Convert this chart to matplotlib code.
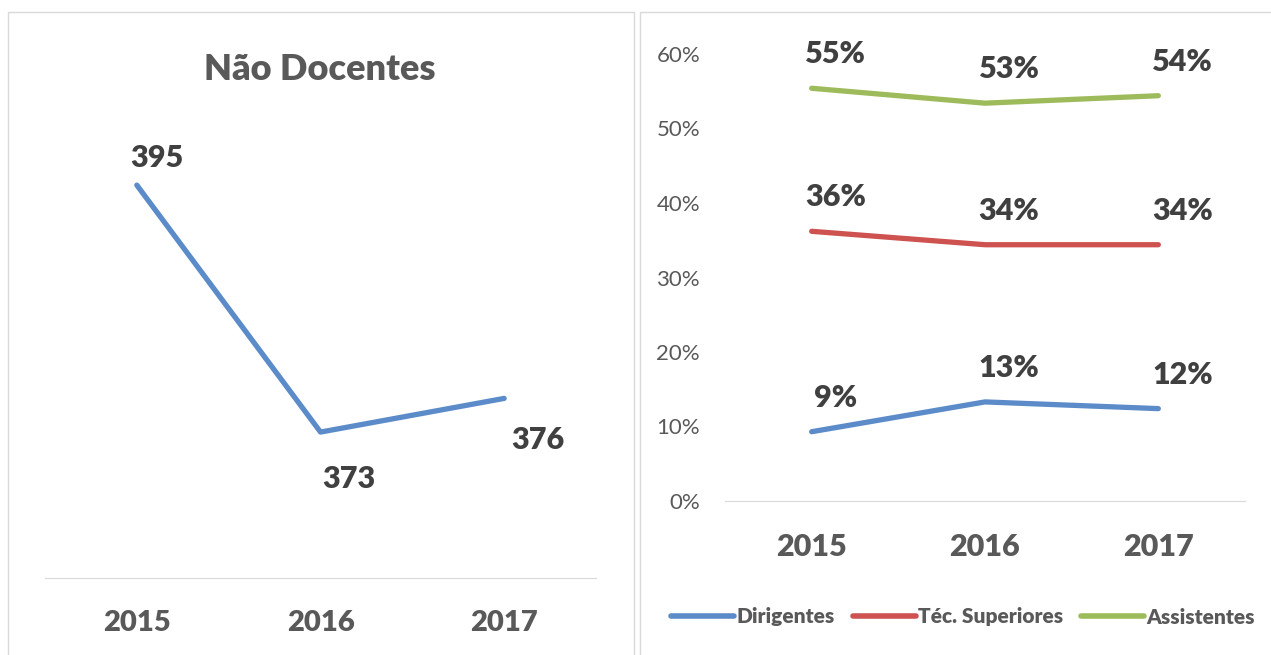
import matplotlib.pyplot as plt
from matplotlib.patches import Rectangle
from matplotlib.lines import Line2D

plt.rcParams['font.family'] = ['Lato', 'DejaVu Sans']

# data
years = ["2015", "2016", "2017"]
nao_docentes = [395, 373, 376]

series_names = ["Dirigentes", "Téc. Superiores", "Assistentes"]
dirigentes = [9.3, 13.3, 12.4]
tec_superiores = [36.2, 34.4, 34.4]
assistentes = [55.4, 53.4, 54.4]

colors = ["#5b8bc9", "#cd5250", "#9dbb5a"]
label_col = "#404040"
tick_col = "#595959"
grid_col = "#d9d9d9"
BOLD = 'heavy'

W, H = 1271, 655
fig = plt.figure(figsize=(W / 100, H / 100), dpi=100)

# panel borders
fig.patches.append(Rectangle((8 / W, -0.01), 626 / W, 1 - 12 / H + 0.01,
                             transform=fig.transFigure, fill=False,
                             edgecolor=grid_col, lw=1))
fig.patches.append(Rectangle((640 / W, -0.01), 640 / W, 1 - 12 / H + 0.01,
                             transform=fig.transFigure, fill=False,
                             edgecolor=grid_col, lw=1))


def px(x0, y0, x1, y1):
    return [x0 / W, 1 - y1 / H, (x1 - x0) / W, (y1 - y0) / H]


# ---- left chart: Nao Docentes
ax1 = fig.add_axes(px(45, 129, 596, 578))
x = range(len(years))
ax1.plot(x, nao_docentes, color=colors[0], lw=3.8, solid_capstyle='round')
ax1.set_xlim(-0.5, 2.5)
ax1.set_ylim(360, 400)
ax1.set_yticks([])
ax1.set_xticks(list(x))
ax1.set_xticklabels(years, fontsize=21, fontweight=BOLD, color=tick_col)
ax1.tick_params(axis='x', length=0, pad=23)
for s in ["top", "left", "right"]:
    ax1.spines[s].set_visible(False)
ax1.spines["bottom"].set_color(grid_col)
ax1.patch.set_alpha(0)

left_offsets = [(20, 27), (28, -47), (34, -42)]
for i, v in enumerate(nao_docentes):
    ax1.annotate(str(v), (i, v), xytext=left_offsets[i], textcoords='offset pixels',
                 ha='center', va='center', fontsize=22, fontweight=BOLD,
                 color=label_col)

fig.text(320 / W, 1 - 70 / H, "Não Docentes", ha='center', va='center',
         fontsize=26, fontweight=BOLD, color=tick_col)

# ---- right chart: shares
ax2 = fig.add_axes(px(725, 54, 1245, 501))
shares = [dirigentes, tec_superiores, assistentes]
for name, vals, c in zip(series_names, shares, colors):
    ax2.plot(x, vals, color=c, lw=3.8, label=name, solid_capstyle='round')
    for i, v in enumerate(vals):
        ax2.annotate(f"{round(v)}%", (i, v), xytext=(24, 34),
                     textcoords='offset pixels', ha='center', va='center',
                     fontsize=22, fontweight=BOLD, color=label_col)

ax2.set_xlim(-0.5, 2.5)
ax2.set_ylim(0, 60)
ax2.set_yticks(range(0, 61, 10))
ax2.set_yticklabels([f"{t}%" for t in range(0, 61, 10)], fontsize=16,
                    color=tick_col)
ax2.set_xticks(list(x))
ax2.set_xticklabels(years, fontsize=22, fontweight=BOLD, color=tick_col)
ax2.tick_params(axis='x', length=0, pad=23)
ax2.tick_params(axis='y', length=0, pad=18)
for s in ["top", "left", "right"]:
    ax2.spines[s].set_visible(False)
ax2.spines["bottom"].set_color(grid_col)
ax2.patch.set_alpha(0)

handles = [Line2D([], [], color=c, lw=4, solid_capstyle='round') for c in colors]
fig.legend(handles, series_names, loc='center', ncol=3,
           bbox_to_anchor=(963 / W, 1 - 617 / H), frameon=False,
           prop={'size': 15, 'weight': BOLD}, labelcolor=tick_col,
           handlelength=3.0, handletextpad=0.1, columnspacing=0.9)

fig.savefig("out.png", dpi=100)
